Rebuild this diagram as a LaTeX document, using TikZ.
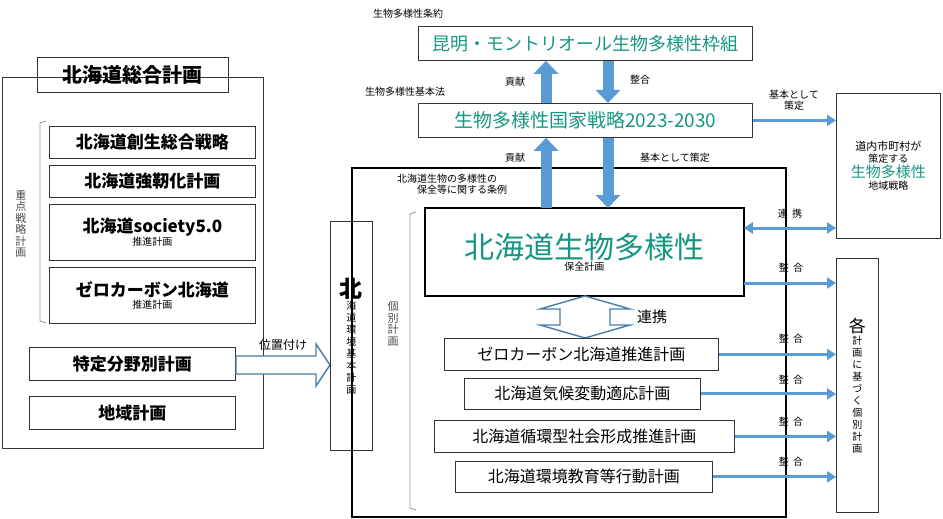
\documentclass[tikz,border=0pt]{standalone}
\usepackage{fontspec}
\setmainfont{Noto Sans CJK JP}
\usepackage{tikz}
\usetikzlibrary{arrows.meta,positioning,calc}
\definecolor{teal1}{RGB}{22,150,130}
\definecolor{arblue}{RGB}{91,155,213}
\tikzset{
  box/.style={draw=black!80, line width=0.8pt, inner sep=0pt, align=center},
  fat/.style={arblue, line width=11pt, -{Triangle[length=13pt,width=24pt]}},
  thin/.style={arblue, line width=3pt, -{Triangle[length=9pt,width=11pt]}},
  lab/.style={font=\fontsize{10}{11}\selectfont, align=center, inner sep=1pt},
  hollow/.style={draw=arblue!80!black, line width=1.4pt, fill=white}
}
\newcommand{\bx}[5]{\node[box, minimum width=#3pt, minimum height=#4pt, anchor=north west] (#1) at (#2) {#5};}
\begin{document}
\begin{tikzpicture}[x=1pt,y=-1pt]
  \useasboundingbox (0,0) rectangle (943,519);
  % left block
  \draw[black!80, line width=0.8pt] (2,77) rectangle (263,448);
  \bx{sogo}{37,57}{191}{35}{\fontsize{20}{22}\selectfont\bfseries 北海道総合計画}
  \draw[black!40, line width=0.8pt] (46,121) -- (40,123) -- (40,321) -- (46,323);
  \node[lab, text=black!70, font=\fontsize{11}{11.5}\selectfont, align=center] (juten) at (21,224) {重\\点\\戦\\略\\計\\画};
  \bx{sosei}{49,126}{206}{32}{\fontsize{17}{19}\selectfont\bfseries 北海道創生総合戦略}
  \bx{kyoj}{49,165}{206}{32}{\fontsize{17}{19}\selectfont\bfseries 北海道強靭化計画}
  \bx{soc}{49,204}{206}{56}{\fontsize{17}{21}\selectfont\bfseries 北海道society5.0\\推進計画}
  \bx{zero1}{49,267}{206}{56}{\fontsize{17}{21}\selectfont\bfseries ゼロカーボン北海道\\推進計画}
  \bx{tokutei}{29,347}{206}{33}{\fontsize{17}{19}\selectfont\bfseries 特定分野別計画}
  \bx{chiiki}{29,396}{206}{33}{\fontsize{17}{19}\selectfont\bfseries 地域計画}
  % hollow arrow
  \draw[hollow] (236,356) -- (316,356) -- (316,344) -- (330,365) -- (316,386) -- (316,374) -- (236,374) -- cycle;
  \node[lab, font=\fontsize{12}{13}\selectfont] (ichi) at (283,345) {位置付け};
  % right block
  \draw[black, line width=1.6pt] (352,168) rectangle (786,517);
  \bx{kankyo}{330,221}{42}{229}{\fontsize{23}{25.5}\selectfont\bfseries 北\\海\\道\\環\\境\\基\\本\\計\\画}
  \bx{kunming}{418,26}{334}{34}{\fontsize{18}{20}\selectfont\color{teal1}昆明・モントリオール生物多様性枠組}
  \bx{kokka}{418,103}{334}{34}{\fontsize{19}{21}\selectfont\color{teal1}生物多様性国家戦略2023-2030}
  \node[lab, anchor=west] (joyaku) at (372,14) {生物多様性条約};
  \node[lab, anchor=west] (kihon) at (364,92) {生物多様性基本法};
  \draw[fat] (kokka.north -| 546,0) -- (kunming.south -| 546,0);
  \draw[fat] (kunming.south -| 608,0) -- (kokka.north -| 608,0);
  \node[lab] (kouken1) at (515,82) {貢献};
  \node[lab] (seigo0) at (640,80) {整合};
  \bx{hozen}{425,208}{318}{87}{\fontsize{30}{38}\selectfont\color{teal1}北海道生物多様性\\保全計画}
  \draw[black, line width=1.6pt] (hozen.north west) rectangle (hozen.south east);
  \draw[fat] (hozen.north -| 546,0) -- (kokka.south -| 546,0);
  \draw[fat] (kokka.south -| 608,0) -- (hozen.north -| 608,0);
  \node[lab] (kouken2) at (515,158) {貢献};
  \node[lab] (sakutei) at (675,158) {基本として策定};
  \node[lab] (jorei) at (447,184) {北海道生物の多様性の\\\hspace*{3em}保全等に関する条例};
  \bx{shichoson}{836,93}{104}{145}{\fontsize{11}{15}\selectfont 道内市町村が\\策定する\\\fontsize{15}{19}\selectfont\color{teal1}生物多様性\\地域戦略}
  \draw[thin] (kokka.east) -- (kokka.east -| shichoson.west);
  \node[lab] (sakutei2) at (794,100) {基本として\\策定};
  \draw[thin, {Triangle[length=9pt,width=11pt]}-{Triangle[length=9pt,width=11pt]}] (hozen.east |- 0,228) -- (shichoson.west |- 0,228);
  \node[lab] (renkei1) at (790,214) {連\ \ 携};
  % individual plans
  \draw[black!40, line width=0.8pt] (416,212) -- (410,214) -- (410,508) -- (416,510);
  \node[lab, text=black!70, font=\fontsize{11}{11.5}\selectfont] (kobetsu) at (393,324) {個\\別\\計\\画};
  \draw[hollow] (585,296) -- (630,309) -- (610,309) -- (610,325) -- (630,325) -- (585,338) -- (540,325) -- (560,325) -- (560,309) -- (540,309) -- cycle;
  \node[lab, font=\fontsize{15}{16}\selectfont] (renkei2) at (652,317) {連携};
  \bx{zero2}{444,338}{274}{32}{\fontsize{16}{18}\selectfont ゼロカーボン北海道推進計画}
  \bx{kiko}{464,378}{236}{31}{\fontsize{16}{18}\selectfont 北海道気候変動適応計画}
  \bx{junkan}{434,420}{300}{32}{\fontsize{16}{18}\selectfont 北海道循環型社会形成推進計画}
  \bx{kyoiku}{455,461}{257}{31}{\fontsize{16}{18}\selectfont 北海道環境教育等行動計画}
  \bx{kakukei}{836,258}{42}{254}{\fontsize{17}{20.5}\selectfont 各\\計\\画\\に\\基\\づ\\く\\個\\別\\計\\画}
  \draw[thin] (hozen.east |- 0,283) -- (kakukei.west |- 0,283);
  \node[lab] (sg0) at (791,268) {整\ \ 合};
  \foreach \p/\yy in {zero2/339, kiko/380, junkan/422, kyoiku/462} {
    \draw[thin] (\p.east) -- (\p.east -| kakukei.west);
    \node[lab] at (791,\yy) {整\ \ 合};
  }
\end{tikzpicture}
\end{document}
